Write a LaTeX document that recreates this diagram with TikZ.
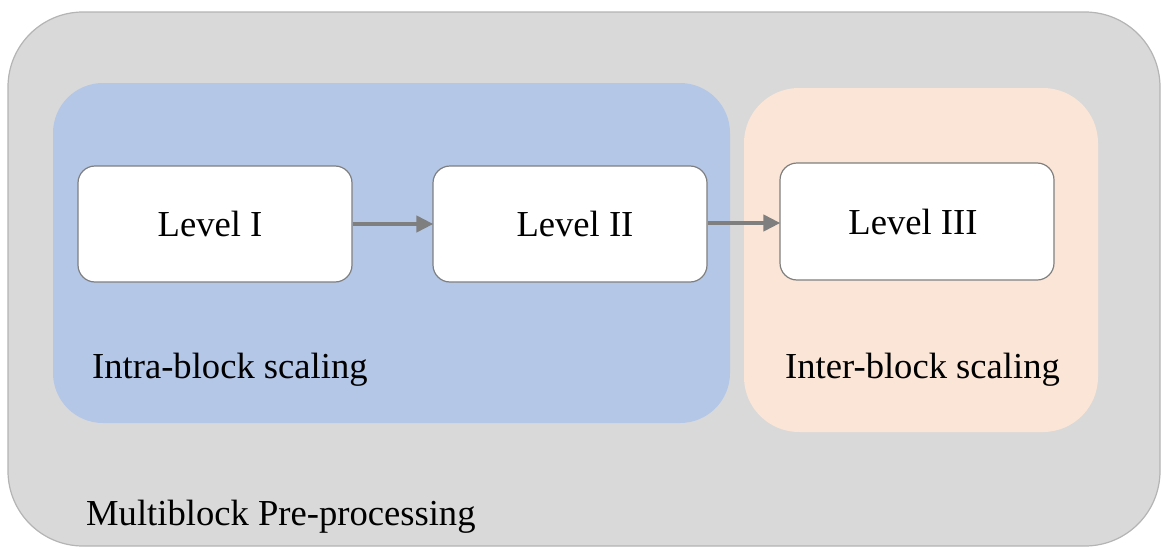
\documentclass[tikz,border=0pt]{standalone}
\usepackage{fontspec}
\setmainfont{Liberation Serif}
\usetikzlibrary{arrows.meta}
\definecolor{outerfill}{HTML}{D9D9D9}
\definecolor{outerline}{HTML}{B4B4B4}
\definecolor{intrafill}{HTML}{B4C7E7}
\definecolor{interfill}{HTML}{FBE5D6}
\definecolor{boxline}{HTML}{7F7F7F}
\definecolor{arrowgray}{HTML}{7F7F7F}
\tikzset{
  lbl/.style={font=\fontsize{36.6}{44}\selectfont, inner sep=0pt, text=black},
  levelbox/.style={draw=boxline, line width=1.2pt, fill=white, rounded corners=17pt,
    minimum width=274pt, minimum height=116pt, inner sep=0pt,
    font=\fontsize{36.6}{44}\selectfont},
  flow/.style={draw=arrowgray, line width=4pt,
    -{Triangle[length=17pt,width=16pt]}, shorten >=-1pt}
}
\begin{document}
\begin{tikzpicture}[x=1pt,y=-1pt]
  \useasboundingbox (0,0) rectangle (1163,549);
  % outer container
  \draw[fill=outerfill, draw=outerline, line width=1.2pt, rounded corners=75pt]
    (8,12) rectangle (1160,546);
  % intra-block region
  \fill[intrafill, rounded corners=50pt] (53,83) rectangle (730,423);
  % inter-block region
  \fill[interfill, rounded corners=55pt] (744,88) rectangle (1098,432);

  % level boxes
  \node[levelbox] (l1) at (215,224) {\hspace*{-10pt}Level I};
  \node[levelbox] (l2) at (570,224) {\hspace*{10pt}Level II};
  \node[levelbox, minimum height=117pt] (l3) at (917,221.5) {\hspace*{-8pt}Level III};

  % flow arrows
  \draw[flow] (l1.east) -- (l2.west);
  \draw[flow] (l2.east |- 0,223) -- (l3.west |- 0,223);

  % region labels
  \node[lbl, anchor=base west] (intra) at (92,378) {Intra-block scaling};
  \node[lbl, anchor=base west] (inter) at (785,378) {Inter-block scaling};
  \node[lbl, anchor=base west] (multi) at (86,525) {Multiblock Pre-processing};
\end{tikzpicture}
\end{document}
